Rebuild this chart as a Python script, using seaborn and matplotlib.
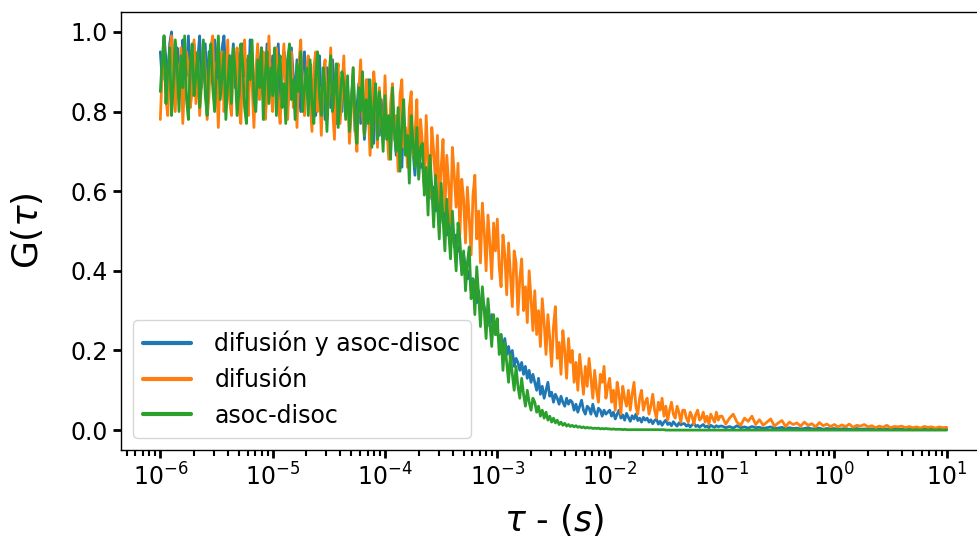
import numpy as np
import pandas as pd
import matplotlib
matplotlib.use("Agg")
import matplotlib.pyplot as plt
import seaborn as sns

# ---------------- data ----------------
series_names = ["difusión y asoc-disoc", "difusión", "asoc-disoc"]

# lag times: 60 points per decade from 1e-6 s to 1e-1 s, then 30 per decade to 1e1 s
tau = np.concatenate([np.logspace(-6, -1, 301)[:-1], np.logspace(-1, 1, 61)])

g_both = [
    # 1e-6 .. 1e-1 (60 per decade)
    0.95, 0.88, 0.99, 0.93, 0.86, 0.97, 1.00, 0.90, 0.85, 0.96, 0.92, 0.87, 0.98, 0.94, 0.89, 0.99, 0.86, 0.91, 0.97, 0.88,
    0.93, 0.99, 0.86, 0.90, 0.97, 0.84, 0.95, 0.91, 0.87, 0.98, 0.93, 0.85, 0.89, 0.96, 0.99, 0.88, 0.84, 0.94, 0.90, 0.97,
    0.86, 0.95, 0.91, 0.83, 0.97, 0.89, 0.93, 0.85, 0.98, 0.92, 0.87, 0.82, 0.94, 0.90, 0.96, 0.84, 0.88, 0.97, 0.91, 0.86,
    0.94, 0.85, 0.90, 0.97, 0.83, 0.88, 0.95, 0.92, 0.81, 0.87, 0.96, 0.89, 0.84, 0.93, 0.86, 0.80, 0.91, 0.95, 0.85, 0.89,
    0.92, 0.83, 0.88, 0.79, 0.90, 0.94, 0.82, 0.86, 0.78, 0.91, 0.87, 0.81, 0.93, 0.84, 0.77, 0.89, 0.85, 0.80, 0.90, 0.83,
    0.86, 0.78, 0.83, 0.89, 0.75, 0.81, 0.87, 0.77, 0.84, 0.73, 0.80, 0.88, 0.76, 0.82, 0.72, 0.85, 0.79, 0.74, 0.83, 0.77,
    0.80, 0.73, 0.78, 0.70, 0.82, 0.75, 0.69, 0.77, 0.72, 0.66, 0.79, 0.71, 0.74, 0.67, 0.76, 0.70, 0.64, 0.73, 0.68, 0.66,
    0.67, 0.61, 0.65, 0.59, 0.63, 0.58, 0.61, 0.55, 0.59, 0.53, 0.57, 0.52, 0.55, 0.49, 0.53, 0.48, 0.51, 0.46, 0.49, 0.45,
    0.45, 0.40, 0.44, 0.41, 0.38, 0.40, 0.35, 0.38, 0.36, 0.32, 0.35, 0.30, 0.33, 0.31, 0.28, 0.30, 0.26, 0.29, 0.27, 0.24,
    0.25, 0.22, 0.24, 0.20, 0.23, 0.19, 0.21, 0.18, 0.20, 0.16, 0.18, 0.17, 0.15, 0.17, 0.14, 0.16, 0.13, 0.15, 0.12, 0.14,
    0.12, 0.10, 0.13, 0.09, 0.11, 0.08, 0.10, 0.12, 0.085, 0.095, 0.07, 0.09, 0.08, 0.065, 0.085, 0.07, 0.06, 0.08, 0.065, 0.075,
    0.07, 0.05, 0.065, 0.045, 0.06, 0.075, 0.05, 0.04, 0.06, 0.055, 0.04, 0.065, 0.045, 0.035, 0.055, 0.05, 0.035, 0.05, 0.04, 0.045,
    0.05, 0.035, 0.045, 0.028, 0.04, 0.05, 0.03, 0.038, 0.025, 0.042, 0.032, 0.022, 0.036, 0.028, 0.04, 0.024, 0.03, 0.02, 0.032, 0.025,
    0.03, 0.02, 0.026, 0.016, 0.024, 0.028, 0.015, 0.022, 0.012, 0.02, 0.025, 0.014, 0.018, 0.011, 0.021, 0.015, 0.01, 0.018, 0.013, 0.016,
    0.016, 0.01, 0.014, 0.008, 0.013, 0.017, 0.009, 0.012, 0.007, 0.011, 0.014, 0.008, 0.01, 0.006, 0.012, 0.009, 0.007, 0.011, 0.008, 0.01,
    # 1e-1 .. 1e1 (30 per decade)
    0.01, 0.006, 0.009, 0.005, 0.011, 0.006, 0.008, 0.005, 0.009, 0.006,
    0.007, 0.004, 0.006, 0.008, 0.004, 0.005, 0.007, 0.003, 0.006, 0.004,
    0.005, 0.003, 0.004, 0.006, 0.003, 0.004, 0.005, 0.002, 0.004, 0.003,
    0.004, 0.002, 0.003, 0.004, 0.002, 0.003, 0.004, 0.002, 0.003, 0.002,
    0.003, 0.002, 0.003, 0.002, 0.003, 0.001, 0.003, 0.002, 0.002, 0.002,
    0.002, 0.001, 0.002, 0.002, 0.003, 0.001, 0.002, 0.001, 0.002, 0.002,
    0.002,
]

g_diff = [
    0.78, 0.90, 0.97, 0.83, 0.79, 0.94, 0.99, 0.86, 0.80, 0.92, 0.84, 0.96, 0.77, 0.88, 0.95, 0.91, 0.81, 0.85, 0.98, 0.82,
    0.93, 0.79, 0.87, 0.97, 0.90, 0.78, 0.84, 0.96, 0.99, 0.82, 0.88, 0.76, 0.91, 0.95, 0.80, 0.86, 0.98, 0.83, 0.79, 0.94,
    0.89, 0.96, 0.81, 0.77, 0.92, 0.98, 0.85, 0.79, 0.94, 0.87, 0.76, 0.90, 0.97, 0.83, 0.88, 0.95, 0.78, 0.84, 0.99, 0.86,
    0.80, 0.93, 0.96, 0.82, 0.77, 0.89, 0.97, 0.85, 0.78, 0.91, 0.95, 0.81, 0.86, 0.76, 0.92, 0.98, 0.84, 0.79, 0.90, 0.94,
    0.83, 0.75, 0.91, 0.95, 0.80, 0.86, 0.74, 0.89, 0.93, 0.78, 0.84, 0.96, 0.81, 0.73, 0.88, 0.92, 0.77, 0.85, 0.94, 0.79,
    0.87, 0.72, 0.80, 0.91, 0.76, 0.70, 0.85, 0.93, 0.79, 0.74, 0.88, 0.82, 0.69, 0.77, 0.90, 0.84, 0.71, 0.86, 0.78, 0.73,
    0.89, 0.76, 0.68, 0.82, 0.87, 0.73, 0.79, 0.65, 0.84, 0.88, 0.71, 0.76, 0.66, 0.81, 0.85, 0.69, 0.74, 0.83, 0.64, 0.78,
    0.72, 0.61, 0.79, 0.67, 0.59, 0.76, 0.70, 0.62, 0.74, 0.57, 0.66, 0.73, 0.55, 0.69, 0.62, 0.52, 0.71, 0.64, 0.56, 0.67,
    0.49, 0.63, 0.58, 0.47, 0.61, 0.53, 0.44, 0.59, 0.64, 0.48, 0.55, 0.42, 0.57, 0.50, 0.40, 0.54, 0.47, 0.38, 0.52, 0.45,
    0.53, 0.41, 0.36, 0.49, 0.44, 0.34, 0.47, 0.39, 0.31, 0.45, 0.42, 0.29, 0.38, 0.43, 0.30, 0.36, 0.27, 0.40, 0.33, 0.25,
    0.35, 0.24, 0.30, 0.21, 0.33, 0.27, 0.19, 0.29, 0.23, 0.16, 0.26, 0.31, 0.18, 0.22, 0.14, 0.25, 0.20, 0.13, 0.23, 0.17,
    0.20, 0.12, 0.17, 0.10, 0.19, 0.14, 0.09, 0.16, 0.11, 0.18, 0.13, 0.08, 0.15, 0.10, 0.07, 0.14, 0.12, 0.16, 0.08, 0.11,
    0.13, 0.07, 0.10, 0.05, 0.12, 0.09, 0.04, 0.11, 0.08, 0.06, 0.10, 0.05, 0.09, 0.12, 0.06, 0.04, 0.08, 0.10, 0.05, 0.07,
    0.08, 0.04, 0.06, 0.09, 0.05, 0.03, 0.07, 0.05, 0.08, 0.035, 0.06, 0.025, 0.05, 0.07, 0.04, 0.03, 0.06, 0.045, 0.02, 0.05,
    0.05, 0.03, 0.02, 0.045, 0.035, 0.015, 0.04, 0.05, 0.025, 0.03, 0.045, 0.02, 0.035, 0.015, 0.04, 0.03, 0.02, 0.045, 0.025, 0.035,
    0.035, 0.015, 0.03, 0.04, 0.02, 0.012, 0.03, 0.022, 0.035, 0.014,
    0.026, 0.012, 0.02, 0.028, 0.01, 0.018, 0.024, 0.009, 0.02, 0.014,
    0.018, 0.01, 0.02, 0.012, 0.016, 0.008, 0.019, 0.011, 0.015, 0.009,
    0.014, 0.008, 0.013, 0.009, 0.015, 0.007, 0.012, 0.01, 0.014, 0.008,
    0.011, 0.006, 0.01, 0.007, 0.012, 0.006, 0.009, 0.008, 0.01, 0.006,
    0.009, 0.006, 0.008, 0.005, 0.009, 0.007, 0.008, 0.005, 0.008, 0.006,
    0.007,
]

g_assoc = [
    0.85, 0.93, 0.99, 0.82, 0.90, 0.96, 0.79, 0.87, 0.98, 0.91, 0.80, 0.94, 0.86, 0.99, 0.83, 0.78, 0.92, 0.97, 0.84, 0.89,
    0.95, 0.81, 0.88, 0.98, 0.84, 0.79, 0.93, 0.97, 0.86, 0.80, 0.91, 0.99, 0.83, 0.89, 0.95, 0.78, 0.87, 0.94, 0.82, 0.96,
    0.90, 0.79, 0.85, 0.97, 0.92, 0.81, 0.77, 0.94, 0.88, 0.98, 0.83, 0.80, 0.93, 0.86, 0.96, 0.78, 0.89, 0.95, 0.82, 0.91,
    0.84, 0.96, 0.79, 0.90, 0.94, 0.81, 0.87, 0.77, 0.93, 0.97, 0.83, 0.88, 0.78, 0.92, 0.85, 0.95, 0.80, 0.86, 0.91, 0.79,
    0.93, 0.82, 0.77, 0.89, 0.95, 0.84, 0.79, 0.91, 0.86, 0.75, 0.88, 0.94, 0.80, 0.85, 0.92, 0.76, 0.83, 0.90, 0.87, 0.78,
    0.89, 0.75, 0.82, 0.91, 0.78, 0.72, 0.86, 0.80, 0.90, 0.74, 0.83, 0.77, 0.88, 0.71, 0.81, 0.87, 0.73, 0.85, 0.79, 0.70,
    0.84, 0.73, 0.79, 0.68, 0.86, 0.75, 0.70, 0.81, 0.65, 0.77, 0.83, 0.69, 0.74, 0.62, 0.79, 0.72, 0.66, 0.76, 0.63, 0.71,
    0.72, 0.59, 0.66, 0.54, 0.69, 0.61, 0.51, 0.64, 0.57, 0.48, 0.62, 0.53, 0.45, 0.58, 0.50, 0.43, 0.55, 0.47, 0.40, 0.52,
    0.48, 0.39, 0.45, 0.35, 0.42, 0.46, 0.33, 0.38, 0.29, 0.41, 0.34, 0.26, 0.36, 0.30, 0.23, 0.33, 0.27, 0.21, 0.29, 0.24,
    0.28, 0.19, 0.24, 0.15, 0.22, 0.17, 0.12, 0.19, 0.14, 0.10, 0.16, 0.11, 0.08, 0.13, 0.09, 0.06, 0.10, 0.07, 0.05, 0.08,
    0.07, 0.045, 0.06, 0.035, 0.05, 0.03, 0.045, 0.025, 0.035, 0.02, 0.03, 0.018, 0.025, 0.014, 0.02, 0.012, 0.017, 0.01, 0.014, 0.009,
    0.012, 0.008, 0.011, 0.007, 0.009, 0.006, 0.008, 0.005, 0.007, 0.005, 0.006, 0.004, 0.005, 0.004, 0.005, 0.003, 0.004, 0.003, 0.004, 0.003,
    0.003, 0.002, 0.003, 0.002, 0.002, 0.002, 0.002, 0.001, 0.002, 0.001, 0.001, 0.001, 0.001, 0.001, 0.001, 0.001, 0.001, 0.001, 0.001, 0.001,
    0.001, 0.001, 0.001, 0.001, 0.001, 0.001, 0.001, 0.001, 0.001, 0.001, 0.0, 0.0, 0.0, 0.0, 0.0, 0.0, 0.0, 0.0, 0.0, 0.0,
    0.0, 0.0, 0.0, 0.0, 0.0, 0.0, 0.0, 0.0, 0.0, 0.0, 0.0, 0.0, 0.0, 0.0, 0.0, 0.0, 0.0, 0.0, 0.0, 0.0,
    0.0, 0.0, 0.0, 0.0, 0.0, 0.0, 0.0, 0.0, 0.0, 0.0,
    0.0, 0.0, 0.0, 0.0, 0.0, 0.0, 0.0, 0.0, 0.0, 0.0,
    0.0, 0.0, 0.0, 0.0, 0.0, 0.0, 0.0, 0.0, 0.0, 0.0,
    0.0, 0.0, 0.0, 0.0, 0.0, 0.0, 0.0, 0.0, 0.0, 0.0,
    0.0, 0.0, 0.0, 0.0, 0.0, 0.0, 0.0, 0.0, 0.0, 0.0,
    0.0, 0.0, 0.0, 0.0, 0.0, 0.0, 0.0, 0.0, 0.0, 0.0,
    0.0,
]

x_label = r"$\tau$ - $(s)$"
y_label = r"G($\tau$)"
y_ticks = [0.0, 0.2, 0.4, 0.6, 0.8, 1.0]
x_ticks = [1e-6, 1e-5, 1e-4, 1e-3, 1e-2, 1e-1, 1e0, 1e1]

# ---------------- build long table ----------------
df = pd.concat([
    pd.DataFrame({"tau": tau, "G": g_both, "serie": series_names[0]}),
    pd.DataFrame({"tau": tau, "G": g_diff, "serie": series_names[1]}),
    pd.DataFrame({"tau": tau, "G": g_assoc, "serie": series_names[2]}),
], ignore_index=True)

# ---------------- plot ----------------
sns.set_style("white")
plt.rcParams["font.family"] = ["DejaVu Sans"]
plt.rcParams["text.color"] = "black"
plt.rcParams["axes.labelcolor"] = "black"
plt.rcParams["xtick.color"] = "black"
plt.rcParams["ytick.color"] = "black"

fig = plt.figure(figsize=(9.77, 5.40), dpi=100)
ax = fig.add_axes([121 / 977, 1 - 450 / 540, 865 / 977, 438 / 540])

palette = sns.color_palette("tab10", 3)
sns.lineplot(data=df, x="tau", y="G", hue="serie", hue_order=series_names,
             palette=palette, linewidth=2.0, ax=ax, estimator=None,
             sort=False)

ax.set_xscale("log")
ax.set_xlim(10 ** -6.35, 10 ** 1.35)
ax.set_ylim(-0.05, 1.05)
ax.set_xticks(x_ticks)
ax.set_yticks(y_ticks)
ax.set_yticklabels([f"{v:.1f}" for v in y_ticks])

ax.tick_params(axis="both", which="major", direction="out", length=6,
               width=2, labelsize=17, colors="black", left=True, bottom=True)
ax.tick_params(axis="x", which="minor", direction="out", length=4,
               width=1.5, bottom=True, colors="black")

for s in ax.spines.values():
    s.set_color("black")
    s.set_linewidth(1.0)

ax.set_xlabel(x_label, fontsize=25, labelpad=8, color="black")
ax.set_ylabel(y_label, fontsize=26, labelpad=18, color="black")

leg = ax.legend(loc="lower left", fontsize=17, frameon=True,
                handlelength=2.0, handletextpad=1.0, borderpad=0.45,
                labelspacing=0.5)
for line in leg.get_lines():
    line.set_linewidth(3.0)
for txt in leg.get_texts():
    txt.set_color("black")

fig.savefig("out.png", dpi=100)
